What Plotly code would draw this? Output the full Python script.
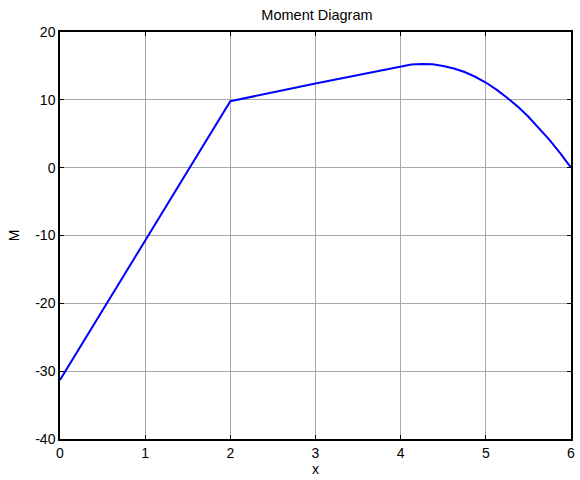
import plotly.graph_objects as go

# Bending moment along the beam (x in m, M in kN·m)
x_vals = [0.0, 2.0, 3.0, 4.0, 4.125, 4.25, 4.375, 4.5, 4.625, 4.75, 4.875,
          5.0, 5.125, 5.25, 5.375, 5.5, 5.625, 5.75, 5.875, 6.0]
m_vals = [-31.3, 9.8, 12.4, 15.0, 15.22, 15.3, 15.25, 15.0, 14.62, 14.1, 13.4,
          12.55, 11.5, 10.3, 9.0, 7.5, 5.85, 4.05, 2.1, 0.0]

x_ticks = [0, 1, 2, 3, 4, 5, 6]
y_ticks = [-40, -30, -20, -10, 0, 10, 20]

font_family = "Liberation Sans, Arial, sans-serif"

fig = go.Figure()
fig.add_trace(go.Scatter(
    x=x_vals, y=m_vals, mode="lines",
    line=dict(color="#0000ff", width=2),
    showlegend=False, hoverinfo="skip",
))

axis_common = dict(
    showline=True, linecolor="black", linewidth=1.5, mirror="ticks",
    ticks="inside", ticklen=4, tickcolor="black", tickwidth=1,
    showgrid=True, gridcolor="#a8a8a8", gridwidth=1,
    zeroline=False,
    tickfont=dict(family=font_family, size=14, color="black"),
)

fig.update_xaxes(
    range=[0, 6], tickvals=x_ticks, ticktext=[str(v) for v in x_ticks],
    title=dict(text="x", font=dict(family=font_family, size=14, color="black"), standoff=4),
    **axis_common,
)
fig.update_yaxes(
    range=[-40, 20], tickvals=y_ticks, ticktext=[str(v) for v in y_ticks],
    title=dict(text="M", font=dict(family=font_family, size=14, color="black"), standoff=12),
    **axis_common,
)

fig.update_layout(
    width=580, height=480,
    margin=dict(l=60, r=5, t=32, b=41),
    paper_bgcolor="white", plot_bgcolor="white",
    title=dict(text="Moment Diagram", x=0.5465, xanchor="center", y=0.969, yanchor="middle",
               font=dict(family=font_family, size=14.5, color="black")),
)

fig.write_html("out.html")
